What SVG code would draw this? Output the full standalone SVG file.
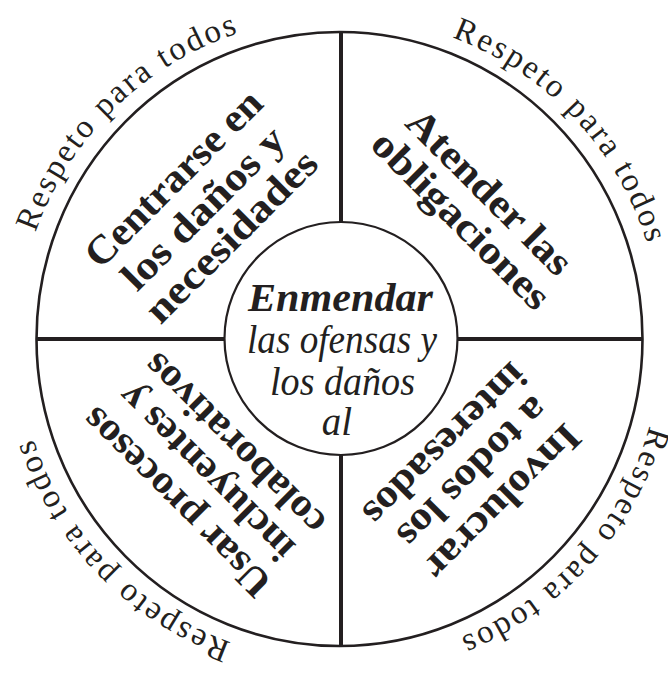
<svg xmlns="http://www.w3.org/2000/svg" xmlns:xlink="http://www.w3.org/1999/xlink" width="668" height="676" viewBox="0 0 668 676">
<style>
.ring{fill:none;stroke:#231f20;stroke-width:2.6}
.inner{fill:#ffffff;stroke:#231f20;stroke-width:2.2}
.div{stroke:#231f20;stroke-width:4;stroke-linecap:butt}
.blk{font-family:"Liberation Serif","Times New Roman",serif;font-weight:bold;font-size:40px;fill:#231f20;text-anchor:middle}
.arc{font-family:"Liberation Serif","Times New Roman",serif;font-size:33px;letter-spacing:2.5px;fill:#231f20;text-anchor:middle}
.ctr{font-family:"Liberation Serif","Times New Roman",serif;font-style:italic;font-size:39px;fill:#231f20;text-anchor:middle}
.ctrb{font-weight:bold;font-size:41px}
</style>
<defs>
<path id="rim" d="M 661.5 339 A 322 322 0 1 1 17.5 339 A 322 322 0 1 1 661.5 339"/>
</defs>
<rect width="668" height="676" fill="#ffffff"/>
<g id="outer-ring">
<ellipse class="ring" cx="339.5" cy="339" rx="303" ry="307"/>
<text class="arc"><textPath xlink:href="#rim" startOffset="236">Respeto para todos</textPath></text>
<text class="arc"><textPath xlink:href="#rim" startOffset="764">Respeto para todos</textPath></text>
<text class="arc"><textPath xlink:href="#rim" startOffset="1268">Respeto para todos</textPath></text>
<text class="arc"><textPath xlink:href="#rim" startOffset="1780">Respeto para todos</textPath></text>
</g>
<g id="connectors">
<line class="div" x1="341" y1="32" x2="341" y2="222"/>
<line class="div" x1="341" y1="455" x2="341" y2="646"/>
<line class="div" x1="37" y1="339" x2="225" y2="339"/>
<line class="div" x1="457" y1="339" x2="642" y2="339"/>
</g>
<g id="quadrant-top-left">
<text class="blk" transform="translate(182.6 187.7) rotate(-45)" textLength="233" lengthAdjust="spacingAndGlyphs">Centrarse en</text>
<text class="blk" transform="translate(212.3 217.4) rotate(-45)" textLength="213" lengthAdjust="spacingAndGlyphs">los daños y</text>
<text class="blk" transform="translate(240.5 245.6) rotate(-45)" textLength="226" lengthAdjust="spacingAndGlyphs">necesidades</text>
</g>
<g id="quadrant-top-right">
<text class="blk" transform="translate(480.2 201.1) rotate(45)" textLength="217" lengthAdjust="spacingAndGlyphs">Atender las</text>
<text class="blk" transform="translate(451.9 229.4) rotate(45)" textLength="235" lengthAdjust="spacingAndGlyphs">obligaciones</text>
</g>
<g id="quadrant-bottom-right">
<text class="blk" transform="translate(493.6 493.1) rotate(135)" textLength="203" lengthAdjust="spacingAndGlyphs">Involucrar</text>
<text class="blk" transform="translate(463.9 463.4) rotate(135)" textLength="196" lengthAdjust="spacingAndGlyphs">a todos los</text>
<text class="blk" transform="translate(435.7 435.2) rotate(135)" textLength="213" lengthAdjust="spacingAndGlyphs">interesados</text>
</g>
<g id="quadrant-bottom-left">
<text class="blk" transform="translate(185.4 493.1) rotate(-135)" textLength="250" lengthAdjust="spacingAndGlyphs">Usar procesos</text>
<text class="blk" transform="translate(215.1 463.4) rotate(-135)" textLength="232" lengthAdjust="spacingAndGlyphs">incluyentes y</text>
<text class="blk" transform="translate(243.3 435.2) rotate(-135)" textLength="240" lengthAdjust="spacingAndGlyphs">colaborativos</text>
</g>
<g id="center">
<circle class="inner" cx="341" cy="338.5" r="116.5"/>
<text class="ctr ctrb" x="340.5" y="310.5" textLength="185" lengthAdjust="spacingAndGlyphs">Enmendar</text>
<text class="ctr" x="342" y="352.5" textLength="190" lengthAdjust="spacingAndGlyphs">las ofensas y</text>
<text class="ctr" x="342.5" y="394.5" textLength="145" lengthAdjust="spacingAndGlyphs">los daños</text>
<text class="ctr" x="337" y="435">al</text>
</g>
</svg>
